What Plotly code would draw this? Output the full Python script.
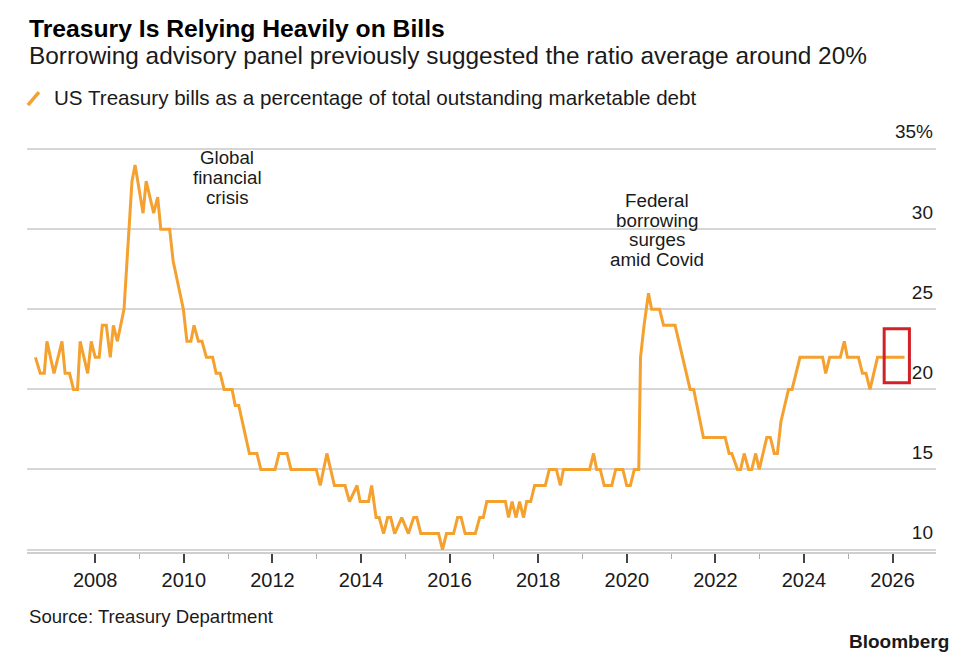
import plotly.graph_objects as go

# turning points of the line (decimal year, % of debt)
years = [
    2006.65, 2006.76, 2006.85, 2006.91, 2007.07, 2007.25, 2007.32, 2007.42, 2007.51, 2007.60,
    2007.66, 2007.83, 2007.91, 2008.00, 2008.09, 2008.16, 2008.25, 2008.34, 2008.41, 2008.50,
    2008.65, 2008.83, 2008.90, 2008.96, 2009.08, 2009.15, 2009.32, 2009.41, 2009.48, 2009.68,
    2009.76, 2009.99, 2010.07, 2010.16, 2010.23, 2010.33, 2010.41, 2010.51, 2010.65, 2010.73,
    2010.82, 2010.91, 2011.09, 2011.16, 2011.24, 2011.48, 2011.65, 2011.74, 2012.06, 2012.15,
    2012.33, 2012.42, 2012.99, 2013.08, 2013.23, 2013.40, 2013.64, 2013.74, 2013.91, 2013.98,
    2014.17, 2014.24, 2014.34, 2014.41, 2014.51, 2014.60, 2014.67, 2014.76, 2014.92, 2015.07,
    2015.19, 2015.26, 2015.35, 2015.75, 2015.84, 2015.93, 2016.09, 2016.18, 2016.26, 2016.35,
    2016.58, 2016.68, 2016.76, 2016.84, 2017.26, 2017.33, 2017.41, 2017.50, 2017.58, 2017.67,
    2017.74, 2017.83, 2017.92, 2018.16, 2018.25, 2018.41, 2018.50, 2018.57, 2019.16, 2019.25,
    2019.32, 2019.40, 2019.49, 2019.66, 2019.75, 2019.91, 2020.00, 2020.08, 2020.17, 2020.27,
    2020.31, 2020.39, 2020.49, 2020.56, 2020.74, 2020.83, 2021.09, 2021.43, 2021.51, 2021.73,
    2022.22, 2022.31, 2022.37, 2022.50, 2022.57, 2022.65, 2022.75, 2022.82, 2022.91, 2022.99,
    2023.16, 2023.24, 2023.33, 2023.40, 2023.48, 2023.65, 2023.73, 2023.91, 2024.42, 2024.49,
    2024.58, 2024.82, 2024.91, 2024.98, 2025.23, 2025.32, 2025.40, 2025.49, 2025.66, 2026.27,
]
bills_pct = [
    22, 21, 21, 23, 21, 23, 21, 21, 20, 20,
    23, 21, 23, 22, 22, 24, 24, 22, 24, 23,
    25, 33, 34, 33, 31, 33, 31, 32, 30, 30,
    28, 25, 23, 23, 24, 23, 23, 22, 22, 21,
    21, 20, 20, 19, 19, 16, 16, 15, 15, 16,
    16, 15, 15, 14, 16, 14, 14, 13, 14, 13,
    13, 14, 12, 12, 11, 12, 12, 11, 12, 11,
    12, 12, 11, 11, 10, 11, 11, 12, 12, 11,
    11, 12, 12, 13, 13, 12, 13, 12, 13, 12,
    13, 13, 14, 14, 15, 15, 14, 15, 15, 16,
    15, 15, 14, 14, 15, 15, 14, 14, 15, 15,
    22, 24, 26, 25, 25, 24, 24, 20, 20, 17,
    17, 16, 16, 15, 15, 16, 15, 15, 16, 15,
    17, 17, 16, 16, 18, 20, 20, 22, 22, 21,
    22, 22, 23, 22, 22, 21, 21, 20, 22, 22,
]

x_ticks = [2008, 2010, 2012, 2014, 2016, 2018, 2020, 2022, 2024, 2026]
y_ticks = [10, 15, 20, 25, 30, 35]
y_labels = ["10", "15", "20", "25", "30", "35%"]

gfc_lines = ["Global", "financial", "crisis"]
covid_lines = ["Federal", "borrowing", "surges", "amid Covid"]

ORANGE = "#F4A12F"
INK = "#1a1a1a"
FONT = "Liberation Sans"

fig = go.Figure()
fig.add_trace(go.Scatter(x=years, y=bills_pct, mode="lines",
                         line=dict(color=ORANGE, width=3), hoverinfo="skip"))

# multi-line notes, one annotation per line to get the tight line spacing
for i, txt in enumerate(gfc_lines):
    fig.add_annotation(x=2010.98, y=34.5, text=txt, showarrow=False, yshift=-20 * i,
                       font=dict(family=FONT, size=18.7, color=INK), xanchor="center", yanchor="middle")
for i, txt in enumerate(covid_lines):
    fig.add_annotation(x=2020.69, y=31.76, text=txt, showarrow=False, yshift=-19.5 * i,
                       font=dict(family=FONT, size=18.8, color=INK), xanchor="center", yanchor="middle")

# header / footer text
fig.add_annotation(xref="paper", yref="paper", x=0, y=1.2041, xanchor="left", yanchor="middle",
                   text="<b>Treasury Is Relying Heavily on Bills</b>", showarrow=False,
                   font=dict(family=FONT, size=24.7, color="#000"))
fig.add_annotation(xref="paper", yref="paper", x=0, y=1.1421, xanchor="left", yanchor="middle",
                   text="Borrowing advisory panel previously suggested the ratio average around 20%",
                   showarrow=False, font=dict(family=FONT, size=24.4, color=INK))
fig.add_annotation(xref="paper", yref="paper", x=0.0275, y=1.0446, xanchor="left", yanchor="middle",
                   text="US Treasury bills as a percentage of total outstanding marketable debt",
                   showarrow=False, font=dict(family=FONT, size=20.6, color=INK))
fig.add_shape(type="line", xref="paper", yref="paper", x0=0.001, y0=1.0273, x1=0.0132, y1=1.0572,
              line=dict(color=ORANGE, width=3.5))
fig.add_annotation(xref="paper", yref="paper", x=0, y=-0.1483, xanchor="left", yanchor="middle",
                   text="Source: Treasury Department", showarrow=False,
                   font=dict(family=FONT, size=18.6, color=INK))
fig.add_annotation(xref="paper", yref="paper", x=1.0165, y=-0.2055, xanchor="right", yanchor="middle",
                   text="<b>Bloomberg</b>", showarrow=False,
                   font=dict(family=FONT, size=19, color=INK))

# red highlight box round the latest reading
fig.add_shape(type="rect", x0=2025.81, x1=2026.38, y0=20.41, y1=23.78,
              line=dict(color="#d42027", width=3))

# page body adds an 8px offset, so the figure is 8px smaller and margins shifted
fig.update_layout(
    width=967, height=659,
    margin=dict(l=19, r=39, t=108.9, b=114.6),
    plot_bgcolor="white", paper_bgcolor="white",
    showlegend=False,
    font=dict(family=FONT, color=INK),
)
fig.update_xaxes(
    range=[2006.46, 2026.98], tickvals=x_ticks, ticktext=[str(v) for v in x_ticks],
    showgrid=False, zeroline=False,
    showline=True, linecolor="#cfcfcf", linewidth=2,
    ticks="outside", ticklen=9, tickwidth=1.5, tickcolor="#444",
    minor=dict(tickvals=[v + 1 for v in [2005] + x_ticks], ticks="outside", ticklen=5,
               tickwidth=1, tickcolor="#aaa", showgrid=False),
    tickfont=dict(family=FONT, size=20, color=INK),
)
fig.update_yaxes(
    range=[9.85, 37], side="right", tickvals=y_ticks, ticktext=y_labels,
    ticklabelposition="inside top", ticklabelshift=-4,
    showgrid=True, gridcolor="#d6d6d6", gridwidth=1.5,
    zeroline=False, showline=False, ticks="",
    tickfont=dict(family=FONT, size=19, color=INK),
)

fig.write_html("out.html")
